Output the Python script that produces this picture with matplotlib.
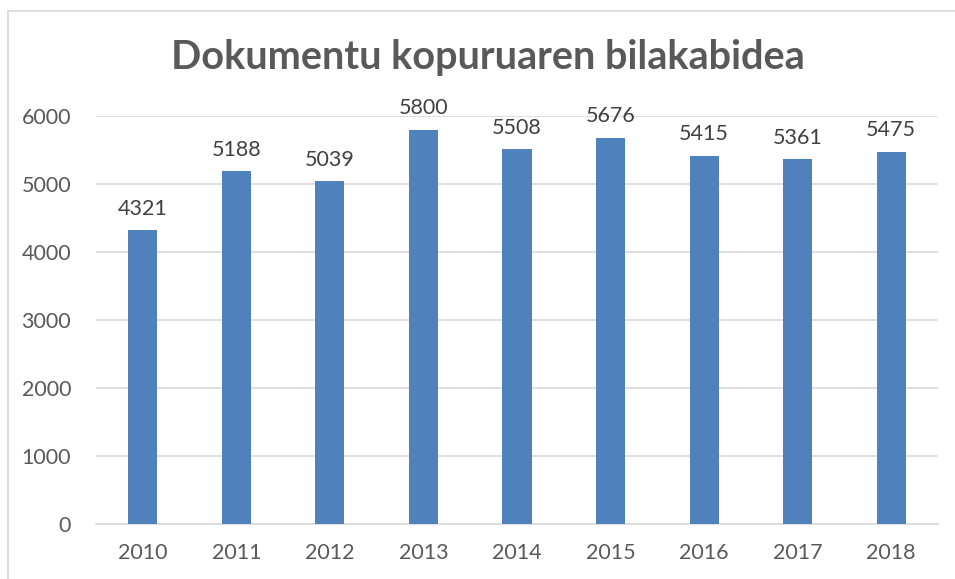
import matplotlib.pyplot as plt

years = ['2010', '2011', '2012', '2013', '2014', '2015', '2016', '2017', '2018']
counts = [4321, 5188, 5039, 5800, 5508, 5676, 5415, 5361, 5475]
yticks = [0, 1000, 2000, 3000, 4000, 5000, 6000]

plt.rcParams['font.family'] = ['Lato', 'DejaVu Sans']
text_gray = '#595959'
grid_gray = '#d9d9d9'

fig = plt.figure(figsize=(9.55, 5.79), dpi=100)
ax = fig.add_axes([96 / 955, 1 - 524 / 579, (938 - 96) / 955, (524 - 116) / 579])

x = range(len(years))
bars = ax.bar(x, counts, width=0.31, color='#4f81bd', zorder=3)
for b, v in zip(bars, counts):
    ax.text(b.get_x() + b.get_width() / 2, v + 170, str(v), ha='center', va='bottom',
            fontsize=15.5, color='#404040')

ax.set_xlim(-0.5, len(years) - 0.5)
ax.set_ylim(0, 6000)
ax.set_yticks(yticks)
ax.set_xticks(list(x))
ax.set_xticklabels(years)
ax.tick_params(axis='both', length=0, labelsize=15.5, colors=text_gray)
ax.tick_params(axis='y', pad=18)
ax.tick_params(axis='x', pad=14)
ax.yaxis.grid(True, color=grid_gray, linewidth=1.2, zorder=0)
for side in ['top', 'right', 'left']:
    ax.spines[side].set_visible(False)
ax.spines['bottom'].set_color(grid_gray)
ax.spines['bottom'].set_linewidth(1.2)

fig.text(488 / 955, 1 - 58 / 579, 'Dokumentu kopuruaren bilakabidea', ha='center', va='center',
         fontsize=28.5, fontweight='bold', color=text_gray)

# chart frame (only left and top edges visible in the crop)
fig.add_artist(plt.Line2D([8 / 955, 8 / 955], [0, 1 - 11 / 579], transform=fig.transFigure,
                          color=grid_gray, linewidth=1.2))
fig.add_artist(plt.Line2D([8 / 955, 1], [1 - 11 / 579, 1 - 11 / 579], transform=fig.transFigure,
                          color=grid_gray, linewidth=1.2))

fig.savefig('out.png', dpi=100)
